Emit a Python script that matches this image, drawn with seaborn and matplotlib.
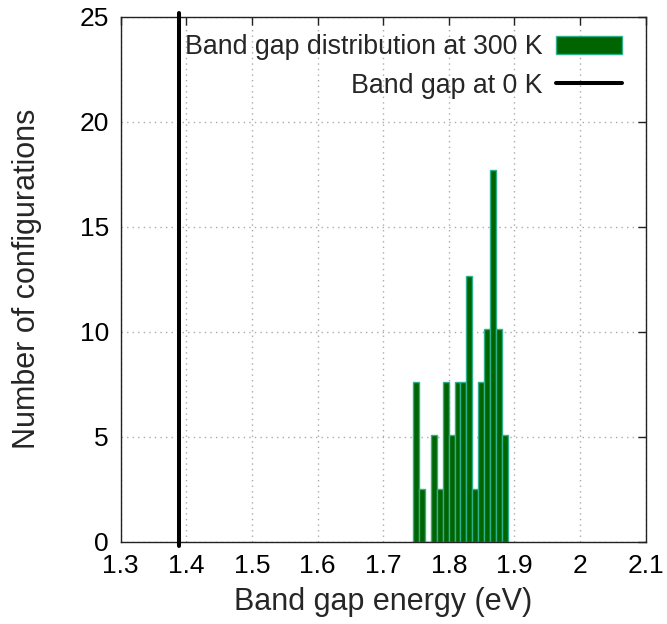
import matplotlib
matplotlib.use("Agg")
import matplotlib.pyplot as plt
import seaborn as sns
import numpy as np
import pandas as pd

# ---- data ----
bin_start = 1.7450
bin_end = 1.8906
n_bins = 16
bar_heights = [7.59, 2.53, 0.0, 5.06, 2.53, 7.59, 5.06, 7.59, 7.59,
               12.66, 2.53, 7.59, 10.13, 17.72, 10.13, 5.06]
gap_0K = 1.389
x_ticks = [1.3, 1.4, 1.5, 1.6, 1.7, 1.8, 1.9, 2.0, 2.1]
x_tick_labels = ["1.3", "1.4", "1.5", "1.6", "1.7", "1.8", "1.9", "2", "2.1"]
y_ticks = [0, 5, 10, 15, 20, 25]
label_hist = "Band gap distribution at 300 K"
label_line = "Band gap at 0 K"
xlabel = "Band gap energy (eV)"
ylabel = "Number of configurations"

edges = np.linspace(bin_start, bin_end, n_bins + 1)
centers = (edges[:-1] + edges[1:]) / 2
df = pd.DataFrame({"gap": centers, "w": bar_heights})

sns.set_style("white")
plt.rcParams["font.family"] = ["Liberation Sans", "DejaVu Sans"]

fig = plt.figure(figsize=(6.67, 6.24), dpi=100)
ax = fig.add_axes([0.181, 0.1319, 0.787, 0.8413])

sns.histplot(data=df, x="gap", weights="w", bins=list(edges), ax=ax,
             color="#006400", edgecolor="#2fb08c", linewidth=1.0,
             alpha=1.0, label=label_hist)
ax.axvline(gap_0K, ymin=-0.008, ymax=1.008, color="black", lw=2.9,
           clip_on=False, label=label_line, zorder=5)

ax.set_xlim(1.3, 2.1)
ax.set_ylim(0, 25)
ax.set_xticks(x_ticks)
ax.set_xticklabels(x_tick_labels)
ax.set_yticks(y_ticks)
ax.grid(True, color="#aaaaaa", linestyle=(0, (1, 3)), lw=1.0)
ax.set_axisbelow(True)

for s in ax.spines.values():
    s.set_visible(True)
    s.set_color("#222222")
    s.set_linewidth(1.0)

ax.tick_params(axis="both", which="major", direction="in", length=6, width=1,
               top=True, right=True, labelsize=19, colors="#222222",
               labelcolor="black")
ax.tick_params(axis="x", pad=9)
ax.tick_params(axis="y", pad=8.5)

ax.set_xlabel(xlabel, fontsize=22, labelpad=6)
ax.set_ylabel(ylabel, fontsize=22, labelpad=27)

handles, labels = ax.get_legend_handles_labels()
order = [labels.index(label_hist), labels.index(label_line)]
leg = ax.legend([handles[i] for i in order], [labels[i] for i in order],
                loc="upper right", bbox_to_anchor=(0.9752, 0.987), frameon=False,
                markerfirst=False, fontsize=19.3, handlelength=2.45,
                handletextpad=0.5, labelspacing=0.46, borderaxespad=0.0)

fig.savefig("out.png", dpi=100)
